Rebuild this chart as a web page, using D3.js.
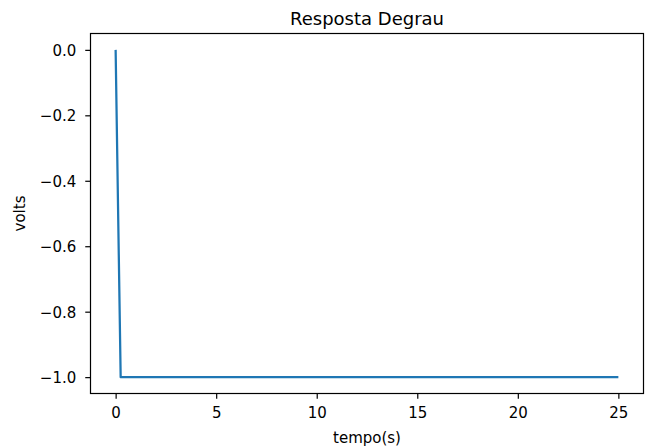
<!DOCTYPE html>
<html>
<head>
<meta charset="utf-8">
<script src="https://cdn.jsdelivr.net/npm/d3@7"></script>
<style>
  html, body { margin: 0; padding: 0; background: #fff; }
  svg { display: block; }
  text { font-family: "DejaVu Sans", sans-serif; fill: #000; }
</style>
</head>
<body>
<div id="chart"></div>
<script>
/* =====================================================
 * DATOS — respuesta al escalón
 * ===================================================== */
const tempo = [0, 0.25, 25];
const volts = [0, -1, -1];

const xTicks = [0, 5, 10, 15, 20, 25];
const yTicks = [0, -0.2, -0.4, -0.6, -0.8, -1.0];

const TITLE = "Resposta Degrau";
const XLABEL = "tempo(s)";
const YLABEL = "volts";

/* =====================================================
 * LAYOUT
 * ===================================================== */
const W = 649, H = 448;
const frame = { left: 90.5, right: 643.5, top: 33.5, bottom: 393.5 };
const TICK = 5.25;
const PAD_X = 7.5, PAD_Y = 9;
const LINE_COLOR = "#1f77b4";

const svg = d3.select("#chart")
  .append("svg")
  .attr("width", W)
  .attr("height", H);

// Escalas (margen del 5% como matplotlib)
const x = d3.scaleLinear()
  .domain([-1.25, 26.25])
  .range([frame.left, frame.right]);

const y = d3.scaleLinear()
  .domain([-1.05, 0.05])
  .range([frame.bottom, frame.top]);

const fmtMinus = v => d3.format(".1f")(v).replace("-", "\u2212");

/* =====================================================
 * EJES
 * ===================================================== */
const gx = svg.append("g")
  .attr("transform", `translate(0,${frame.bottom})`)
  .call(d3.axisBottom(x).tickValues(xTicks).tickSize(TICK).tickPadding(PAD_X).tickFormat(d3.format("d")));

const gy = svg.append("g")
  .attr("transform", `translate(${frame.left},0)`)
  .call(d3.axisLeft(y).tickValues(yTicks).tickSize(TICK).tickPadding(PAD_Y).tickFormat(fmtMinus));

[gx, gy].forEach(g => {
  g.select(".domain").remove();
  g.selectAll(".tick line").attr("stroke", "#000").attr("stroke-width", 1.2);
  g.selectAll(".tick text")
    .attr("fill", "#000")
    .style("font-size", "15px")
    .style("font-family", "'DejaVu Sans', sans-serif");
});
gx.selectAll(".tick text").attr("dy", "0.76em");
gy.selectAll(".tick text").attr("dy", "0.36em");

// Línea de la respuesta
const line = d3.line()
  .x((d, i) => x(tempo[i]))
  .y(d => y(d));

svg.append("path")
  .datum(volts)
  .attr("fill", "none")
  .attr("stroke", LINE_COLOR)
  .attr("stroke-width", 2.25)
  .attr("stroke-linejoin", "round")
  .attr("stroke-linecap", "butt")
  .attr("d", line);

// Marco
svg.append("rect")
  .attr("x", frame.left)
  .attr("y", frame.top)
  .attr("width", frame.right - frame.left)
  .attr("height", frame.bottom - frame.top)
  .attr("fill", "none")
  .attr("stroke", "#000")
  .attr("stroke-width", 1.2);

/* =====================================================
 * TEXTOS
 * ===================================================== */
const cx = (frame.left + frame.right) / 2;
const cy = (frame.top + frame.bottom) / 2;

svg.append("text")
  .attr("x", cx)
  .attr("y", 25)
  .attr("text-anchor", "middle")
  .style("font-size", "18px")
  .text(TITLE);

svg.append("text")
  .attr("x", cx)
  .attr("y", 443)
  .attr("text-anchor", "middle")
  .style("font-size", "15px")
  .text(XLABEL);

svg.append("text")
  .attr("transform", `translate(25,${cy}) rotate(-90)`)
  .attr("text-anchor", "middle")
  .style("font-size", "15px")
  .text(YLABEL);
</script>
</body>
</html>
